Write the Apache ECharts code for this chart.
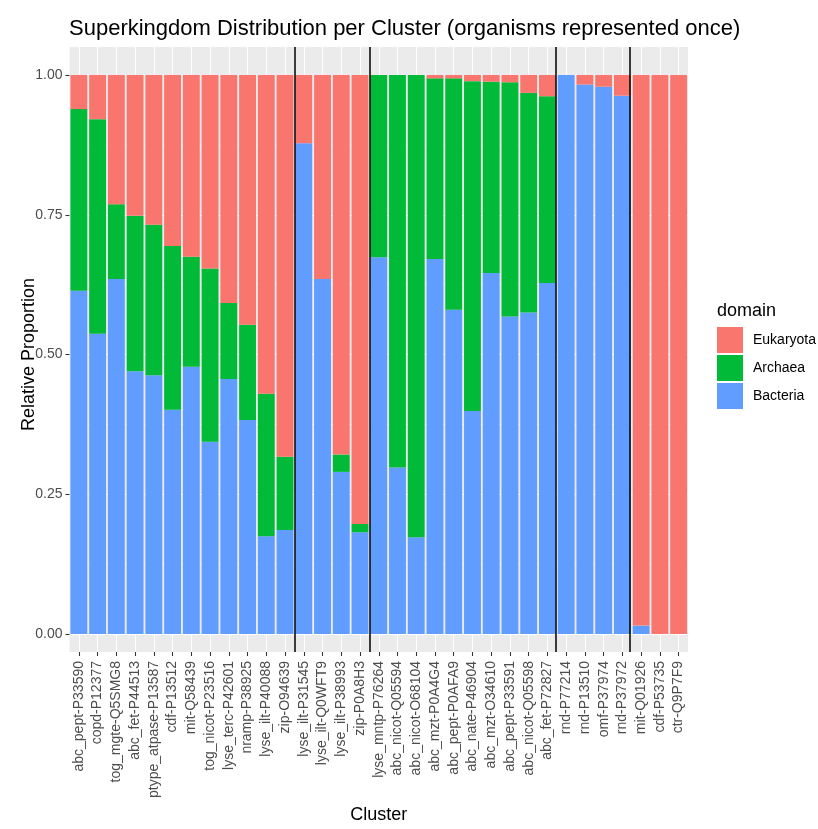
<!DOCTYPE html>
<html>
<head>
<meta charset="utf-8">
<script src="https://cdn.jsdelivr.net/npm/echarts@6/dist/echarts.min.js"></script>
<style>
  html, body { margin: 0; padding: 0; background: #ffffff; }
  #chart { width: 818px; height: 829px; }
</style>
</head>
<body>
<div id="chart"></div>
<script>
// Clusters, in plotting order
const clusters = [
  'abc_pept-P33590', 'copd-P12377', 'tog_mgte-Q5SMG8', 'abc_fet-P44513',
  'ptype_atpase-P13587', 'cdf-P13512', 'mit-Q58439', 'tog_nicot-P23516',
  'lyse_terc-P42601', 'nramp-P38925', 'lyse_ilt-P40088', 'zip-O94639',
  'lyse_ilt-P31545', 'lyse_ilt-Q0WFT9', 'lyse_ilt-P38993', 'zip-P0A8H3',
  'lyse_mntp-P76264', 'abc_nicot-Q05594', 'abc_nicot-O68104', 'abc_mzt-P0A4G4',
  'abc_pept-P0AFA9', 'abc_nate-P46904', 'abc_mzt-O34610', 'abc_pept-P33591',
  'abc_nicot-Q05598', 'abc_fet-P72827', 'rnd-P77214', 'rnd-P13510',
  'omf-P37974', 'rnd-P37972', 'mit-Q01926', 'cdf-P53735', 'ctr-Q9P7F9'
];

// Relative proportion of each superkingdom per cluster
const bacteria = [
  0.614, 0.537, 0.635, 0.470, 0.463, 0.401, 0.478, 0.344, 0.456, 0.383, 0.175, 0.186,
  0.878, 0.635, 0.290, 0.182,
  0.674, 0.298, 0.173, 0.671, 0.580, 0.399, 0.646, 0.568, 0.575, 0.628,
  1.000, 0.983, 0.979, 0.963,
  0.015, 0.000, 0.000
];
const archaea = [
  0.325, 0.384, 0.134, 0.278, 0.269, 0.293, 0.197, 0.310, 0.136, 0.170, 0.255, 0.131,
  0.000, 0.000, 0.031, 0.015,
  0.326, 0.702, 0.827, 0.323, 0.414, 0.590, 0.342, 0.419, 0.393, 0.334,
  0.000, 0.000, 0.000, 0.000,
  0.000, 0.000, 0.000
];
const eukaryota = [
  0.061, 0.079, 0.231, 0.252, 0.268, 0.306, 0.325, 0.346, 0.408, 0.447, 0.570, 0.683,
  0.122, 0.365, 0.679, 0.803,
  0.000, 0.000, 0.000, 0.006, 0.006, 0.011, 0.012, 0.013, 0.032, 0.038,
  0.000, 0.017, 0.021, 0.037,
  0.985, 1.000, 1.000
];

// Group boundaries (between cluster positions, 1-based)
const separators = [12.5, 16.5, 26.5, 30.5];

const domainColors = { Eukaryota: '#F8766D', Archaea: '#00BA38', Bacteria: '#619CFF' };
const legendOrder = ['Eukaryota', 'Archaea', 'Bacteria'];

const FONT = '"Liberation Sans", Arial, sans-serif';
const panel = { left: 69.5, right: 130, top: 47, bottom: 167 };
const inner = { left: 69.5, right: 130, top: 75, bottom: 195 };

const chart = echarts.init(document.getElementById('chart'), null, { renderer: 'canvas' });

function barSeries(name, values) {
  return {
    name: name,
    type: 'bar',
    xAxisIndex: 2,
    yAxisIndex: 1,
    stack: 'domain',
    barCategoryGap: '10%',
    data: values,
    itemStyle: { color: domainColors[name] },
    emphasis: { disabled: true },
    z: 2
  };
}

chart.setOption({
  backgroundColor: '#ffffff',
  animation: false,
  textStyle: { fontFamily: FONT },
  title: [
    {
      text: 'Superkingdom Distribution per Cluster (organisms represented once)',
      left: 64, top: 13,
      textStyle: { fontFamily: FONT, fontSize: 22, fontWeight: 'normal', color: '#000000' }
    },
    {
      text: 'domain',
      left: 712, top: 297,
      textStyle: { fontFamily: FONT, fontSize: 18, fontWeight: 'normal', color: '#000000' }
    }
  ],
  legend: {
    data: legendOrder,
    orient: 'vertical',
    left: 712, top: 322,
    itemWidth: 26, itemHeight: 26, itemGap: 2,
    icon: 'rect',
    selectedMode: false,
    textStyle: { fontFamily: FONT, fontSize: 14, color: '#000000', padding: [0, 0, 0, 5] }
  },
  grid: [
    Object.assign({ show: true, backgroundColor: '#EBEBEB', borderWidth: 0, containLabel: false }, panel),
    Object.assign({ show: false, containLabel: false }, inner)
  ],
  xAxis: [
    {
      // panel axis: cluster labels, ticks and vertical gridlines
      gridIndex: 0,
      type: 'category',
      data: clusters,
      boundaryGap: true,
      axisLine: { show: false },
      axisTick: { show: true, alignWithLabel: true, length: 4, lineStyle: { color: '#333333', width: 1.07 } },
      axisLabel: { interval: 0, rotate: 90, margin: 9, fontSize: 14, color: '#4D4D4D', fontFamily: FONT },
      splitLine: { show: true, alignWithLabel: true, interval: 0, lineStyle: { color: '#FFFFFF', width: 1.07 } },
      name: 'Cluster',
      nameLocation: 'middle',
      nameGap: 154,
      nameMoveOverlap: false,
      nameTextStyle: { fontSize: 18, color: '#000000', fontFamily: FONT }
    },
    {
      // continuous positions for group separators
      gridIndex: 0,
      type: 'value',
      min: 0.4,
      max: clusters.length + 0.6,
      show: false
    },
    {
      // bars
      gridIndex: 1,
      type: 'category',
      data: clusters,
      boundaryGap: true,
      show: false
    }
  ],
  yAxis: [
    {
      gridIndex: 0,
      type: 'value',
      min: 0, max: 1,
      show: false
    },
    {
      gridIndex: 1,
      type: 'value',
      min: 0, max: 1, interval: 0.25,
      axisLine: { show: false },
      axisTick: { show: true, length: 4, lineStyle: { color: '#333333', width: 1.07 } },
      axisLabel: {
        margin: 7, fontSize: 14, color: '#4D4D4D', fontFamily: FONT,
        formatter: function (v) { return v.toFixed(2); }
      },
      splitLine: { show: true, lineStyle: { color: '#FFFFFF', width: 1.07 } },
      minorTick: { show: false, splitNumber: 2 },
      minorSplitLine: { show: true, lineStyle: { color: '#FFFFFF', width: 0.55 } },
      name: 'Relative Proportion',
      nameLocation: 'middle',
      nameGap: 31,
      nameRotate: 90,
      nameMoveOverlap: false,
      nameTextStyle: { fontSize: 18, color: '#000000', fontFamily: FONT }
    }
  ],
  series: [
    barSeries('Bacteria', bacteria),
    barSeries('Archaea', archaea),
    barSeries('Eukaryota', eukaryota),
    {
      name: 'separators',
      type: 'line',
      xAxisIndex: 1,
      yAxisIndex: 0,
      data: [],
      z: 5,
      silent: true,
      markLine: {
        silent: true,
        symbol: ['none', 'none'],
        label: { show: false },
        lineStyle: { color: '#000000', width: 1.5, type: 'solid' },
        emphasis: { disabled: true },
        data: separators.map(function (s) { return { xAxis: s }; })
      }
    }
  ]
});
</script>
</body>
</html>
